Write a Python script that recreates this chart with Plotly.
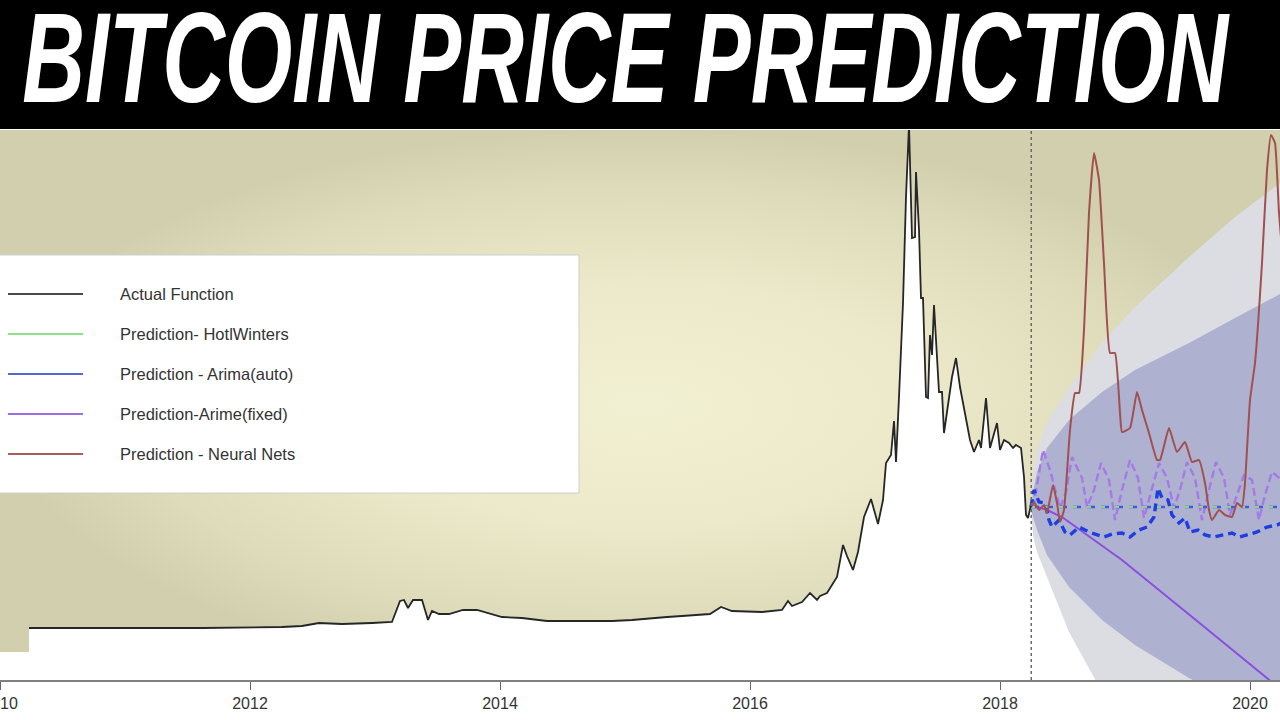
import plotly.graph_objects as go

# ---------------- data ----------------
actual_year = [2010.232, 2010.816, 2011.616, 2012.256, 2012.416, 2012.552, 2012.736, 2012.976,
               2013.136, 2013.200, 2013.232, 2013.264, 2013.304, 2013.376, 2013.424, 2013.456,
               2013.512, 2013.592, 2013.656, 2013.704, 2013.816, 2013.896, 2014.016, 2014.176,
               2014.376, 2014.656, 2014.896, 2015.056, 2015.216, 2015.336, 2015.456, 2015.680,
               2015.768, 2015.856, 2016.096, 2016.256, 2016.304, 2016.336, 2016.416, 2016.480,
               2016.536, 2016.560, 2016.616, 2016.696, 2016.744, 2016.776, 2016.824, 2016.864,
               2016.912, 2016.968, 2017.024, 2017.064, 2017.088, 2017.128, 2017.152, 2017.168,
               2017.192, 2017.224, 2017.248, 2017.272, 2017.296, 2017.320, 2017.328, 2017.352,
               2017.368, 2017.384, 2017.408, 2017.424, 2017.440, 2017.456, 2017.472, 2017.512,
               2017.536, 2017.552, 2017.616, 2017.648, 2017.680, 2017.720, 2017.760, 2017.792,
               2017.832, 2017.848, 2017.888, 2017.920, 2017.976, 2018.000, 2018.032, 2018.072,
               2018.104, 2018.128, 2018.168, 2018.192, 2018.208, 2018.224, 2018.248]
actual_price = [80, 80, 80, 120, 160, 280, 240, 280,
                320, 1160, 1200, 880, 1200, 1200, 400, 760,
                640, 640, 720, 800, 800, 680, 520, 480,
                360, 360, 360, 400, 480, 520, 560, 640,
                920, 760, 720, 800, 1160, 960, 1120, 1480,
                1200, 1360, 1480, 2120, 3400, 2960, 2400, 3120,
                4520, 5240, 4240, 5200, 6680, 7000, 8360, 6720,
                9320, 13080, 17320, 20200, 15680, 15720, 18320, 16000,
                13280, 13280, 9320, 9280, 11800, 11000, 13000, 9520,
                9520, 7880, 10120, 10880, 9720, 8600, 7600, 7120,
                7600, 7280, 9280, 7280, 8280, 7200, 7600, 7480,
                7280, 7400, 7280, 6120, 4600, 4480, 5000]
pre_data_level = -880          # level of the white area before the series starts

forecast_start = 2018.25

hw_year = [2018.248, 2020.30]
hw_price = [4920, 4920]
arima_auto_mean_price = [4920, 4920]

arima_auto_year = [2018.248, 2018.272, 2018.312, 2018.360, 2018.392, 2018.416, 2018.472, 2018.520,
                   2018.560, 2018.632, 2018.680, 2018.736, 2018.832, 2018.896, 2018.976, 2019.040,
                   2019.112, 2019.176, 2019.232, 2019.264, 2019.296, 2019.344, 2019.376, 2019.432,
                   2019.480, 2019.520, 2019.584, 2019.640, 2019.712, 2019.792, 2019.856, 2019.920,
                   2019.976, 2020.056, 2020.136, 2020.216, 2020.272]
arima_auto_price = [4920, 5600, 5120, 5080, 4400, 4120, 4400, 3920,
                    3800, 4120, 4000, 3880, 3720, 3840, 3880, 3720,
                    4000, 4120, 4520, 5680, 5280, 5200, 4600, 4280,
                    4480, 3920, 4000, 3800, 3720, 3800, 3880, 3720,
                    3800, 3920, 4120, 4200, 4320]

arima_fixed_year = [2018.248, 2018.272, 2018.344, 2018.400, 2018.480, 2018.528, 2018.576, 2018.656,
                    2018.696, 2018.752, 2018.808, 2018.872, 2018.920, 2018.976, 2019.040, 2019.104,
                    2019.152, 2019.216, 2019.272, 2019.336, 2019.392, 2019.440, 2019.496, 2019.560,
                    2019.616, 2019.672, 2019.728, 2019.792, 2019.840, 2019.896, 2019.952, 2020.016,
                    2020.072, 2020.120, 2020.176, 2020.272]
arima_fixed_price = [4920, 5080, 7200, 6400, 4880, 5520, 6920, 6080,
                     4920, 5600, 6680, 6000, 4400, 5600, 6800, 6080,
                     4480, 5600, 6680, 6080, 4880, 5600, 6720, 6080,
                     4400, 5600, 6720, 6080, 4600, 5400, 6200, 6000,
                     4400, 5400, 6320, 5920]

arima_trend_year = [2018.248, 2018.376, 2018.496, 2018.976, 2019.616, 2020.136, 2020.272]
arima_trend_price = [5000, 4800, 4520, 2800, 200, -1920, -2480]

nn_year = [2018.248, 2018.272, 2018.312, 2018.352, 2018.376, 2018.424, 2018.456, 2018.480,
           2018.512, 2018.560, 2018.600, 2018.632, 2018.672, 2018.712, 2018.752, 2018.792,
           2018.832, 2018.880, 2018.920, 2018.960, 2018.976, 2019.040, 2019.096, 2019.136,
           2019.192, 2019.256, 2019.280, 2019.352, 2019.416, 2019.480, 2019.536, 2019.592,
           2019.640, 2019.672, 2019.696, 2019.752, 2019.800, 2019.856, 2019.896, 2019.936,
           2019.960, 2020.000, 2020.040, 2020.096, 2020.136, 2020.168, 2020.200, 2020.232,
           2020.272]
nn_price = [4920, 5120, 4800, 5000, 4680, 5800, 5080, 4320,
            4800, 8000, 9480, 9480, 12000, 16680, 19080, 18000,
            14680, 11080, 11080, 8680, 7920, 8080, 9520, 8800,
            7880, 6800, 6800, 8080, 7120, 7520, 6720, 6800,
            5880, 4800, 4400, 4800, 4600, 4520, 5080, 4920,
            5880, 9200, 10680, 14680, 18400, 19800, 19480, 16680,
            14200]

band_year = [2018.248, 2018.264, 2018.296, 2018.376, 2018.552, 2018.816, 2019.080, 2019.512,
             2019.880, 2020.272]
band_inner_upper = [4800, 5520, 6320, 7280, 8400, 9520, 10400, 11480, 12480, 13520]
band_inner_lower = [4800, 4480, 4000, 3000, 1720, 400, -600, -1920, -2880, -3920]
band_outer_upper = [4800, 6200, 7200, 8320, 9680, 11480, 12920, 14920, 16520, 18000]
band_outer_lower = [4800, 3800, 3120, 2080, -80, -2480, -4600, -7600, -9600, -11600]

tick_years = [2010, 2012, 2014, 2016, 2018, 2020]
tick_labels = ["2010", "2012", "2014", "2016", "2018", "2020"]

legend_labels = ["Actual Function", "Prediction- HotlWinters", "Prediction - Arima(auto)",
                 "Prediction-Arime(fixed)", "Prediction - Neural Nets"]
legend_colors = ["#4a4a4a", "#8fe08a", "#5567dd", "#9b6fe0", "#a85c5c"]

title_text = "BITCOIN PRICE PREDICTION"

# ---------------- layout geometry ----------------
W, H = 1280, 720
M_TOP, M_BOT = 130, 40
X_RANGE = [2010.0, 2020.24]
Y_RANGE = [-2000, 20000]


def px_x(p):
    return p / W


def px_y(p):
    return (H - M_BOT - p) / (H - M_TOP - M_BOT)


fig = go.Figure()

# khaki radial background
bx = [X_RANGE[0], X_RANGE[1], X_RANGE[1], X_RANGE[0], X_RANGE[0]]
by = [Y_RANGE[0], Y_RANGE[0], Y_RANGE[1], Y_RANGE[1], Y_RANGE[0]]
fig.add_trace(go.Scatter(
    x=bx, y=by, mode="lines", fill="toself", line=dict(width=0),
    fillgradient=dict(type="radial",
                      colorscale=[[0, "#f2f0d2"], [0.45, "#ebe9c9"], [0.8, "#dddbb9"],
                                  [1, "#d1cfad"]]),
    hoverinfo="skip"))

# white area under the actual series
wx = ([X_RANGE[0] - 0.1, actual_year[0]] + actual_year
      + [X_RANGE[1] + 0.1, X_RANGE[1] + 0.1, X_RANGE[0] - 0.1, X_RANGE[0] - 0.1])
wy = ([pre_data_level, pre_data_level] + actual_price
      + [actual_price[-1], Y_RANGE[0] - 3000, Y_RANGE[0] - 3000, pre_data_level])
fig.add_trace(go.Scatter(x=wx, y=wy, mode="lines", fill="toself", fillcolor="#ffffff",
                         line=dict(width=0), hoverinfo="skip"))

# forecast bands
fig.add_trace(go.Scatter(
    x=band_year + band_year[::-1], y=band_outer_upper + band_outer_lower[::-1],
    mode="lines", fill="toself", fillcolor="#dcdce3", line=dict(width=0), hoverinfo="skip"))
fig.add_trace(go.Scatter(
    x=band_year + band_year[::-1], y=band_inner_upper + band_inner_lower[::-1],
    mode="lines", fill="toself", fillcolor="#afb1d1", line=dict(width=0), hoverinfo="skip"))

# prediction lines
fig.add_trace(go.Scatter(x=arima_trend_year, y=arima_trend_price, mode="lines",
                         line=dict(color="#8a4fe0", width=2)))
fig.add_trace(go.Scatter(x=arima_fixed_year, y=arima_fixed_price, mode="lines",
                         line=dict(color="#a57ae6", width=2.4, dash="8px,4px")))
fig.add_trace(go.Scatter(x=arima_auto_year, y=arima_auto_price, mode="lines",
                         line=dict(color="#1f3ee0", width=3.4, dash="8px,5px")))
fig.add_trace(go.Scatter(x=hw_year, y=arima_auto_mean_price, mode="lines",
                         line=dict(color="#3f5be0", width=2.4, dash="8px,6px")))
fig.add_trace(go.Scatter(x=hw_year, y=hw_price, mode="lines",
                         line=dict(color="#86d87e", width=2.2, dash="4px,10px")))
fig.add_trace(go.Scatter(x=nn_year, y=nn_price, mode="lines",
                         line=dict(color="#a0504f", width=2, shape="spline", smoothing=0.4)))

# actual series
fig.add_trace(go.Scatter(x=actual_year, y=actual_price, mode="lines",
                         line=dict(color="#262626", width=1.8)))

shapes = []
annotations = []

# vertical dotted forecast-start line
shapes.append(dict(type="line", xref="x", yref="paper", x0=forecast_start, x1=forecast_start,
                   y0=0, y1=1, line=dict(color="#6a6a6a", width=1.5, dash="dot"), layer="above"))

# legend box
shapes.append(dict(type="rect", xref="paper", yref="paper", x0=px_x(-5), x1=px_x(579),
                   y0=px_y(493), y1=px_y(255), fillcolor="#ffffff",
                   line=dict(color="#cfcfcf", width=1), layer="above"))
for i, (lab, col) in enumerate(zip(legend_labels, legend_colors)):
    yy = px_y(294 + 40 * i)
    shapes.append(dict(type="line", xref="paper", yref="paper", x0=px_x(8), x1=px_x(83),
                       y0=yy, y1=yy, line=dict(color=col, width=2), layer="above"))
    annotations.append(dict(text=lab, xref="paper", yref="paper", x=px_x(118), y=yy,
                            xanchor="left", yanchor="middle", showarrow=False,
                            font=dict(family="Liberation Sans, Arial, sans-serif", size=16.5,
                                      color="#333333")))

# title banner
shapes.append(dict(type="rect", xref="paper", yref="paper", x0=-0.01, x1=1.01,
                   y0=px_y(129), y1=px_y(-2), fillcolor="#000000", line=dict(width=0),
                   layer="above"))
annotations.append(dict(text=title_text, xref="paper", yref="paper", x=px_x(626), y=px_y(58),
                        xanchor="center", yanchor="middle", showarrow=False,
                        font=dict(family="Liberation Sans, Arial, sans-serif",
                                  size=86, color="#ffffff", weight="bold", style="italic")))

fig.update_layout(
    width=W, height=H,
    margin=dict(l=0, r=0, t=M_TOP, b=M_BOT, pad=0),
    paper_bgcolor="#ffffff", plot_bgcolor="#ffffff",
    showlegend=False,
    shapes=shapes, annotations=annotations,
    xaxis=dict(range=X_RANGE, tickmode="array", tickvals=tick_years, ticktext=tick_labels,
               ticks="outside", ticklen=8, tickwidth=1.2, tickcolor="#666666",
               showline=True, linecolor="#808080", linewidth=1.5, showgrid=False,
               zeroline=False, ticklabeloverflow="allow", automargin=False,
               tickfont=dict(family="Liberation Sans, Arial, sans-serif", size=16,
                             color="#333333")),
    yaxis=dict(range=Y_RANGE, visible=False, showgrid=False, zeroline=False, automargin=False),
)

# stretch the banner title into its box (condensed, tall lettering like the reference)
fit_title_js = """
var gd = document.getElementById('{plot_id}');
var nodes = gd.querySelectorAll('.annotation-text');
nodes.forEach(function(t) {
  if (t.textContent.indexOf('BITCOIN') === 0) {
    var b = t.getBBox();
    var fs = parseFloat(t.style.fontSize) || 86;
    var cx = b.x + b.width / 2, cy = b.y + b.height / 2;
    var sx = 1208 / b.width, sy = 91 / (0.716 * fs);
    var prev = t.getAttribute('transform') || '';
    t.setAttribute('transform', prev + ' translate(' + cx + ',' + cy + ') scale(' + sx + ',' + sy +
                   ') translate(' + (-cx) + ',' + (-cy) + ')');
  }
});
"""

fig.write_html("out.html", post_script=fit_title_js)
